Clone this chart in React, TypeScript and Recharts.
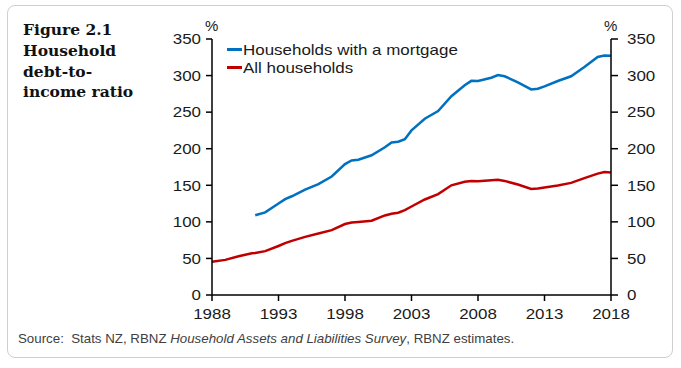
import React from 'react';
import { LineChart, Line, XAxis, YAxis } from 'recharts';

const years = [1988, 1989, 1990, 1991, 1991.25, 1992, 1993, 1993.5, 1994, 1995, 1996, 1997, 1998, 1998.5, 1999, 2000, 2001, 2001.5, 2002, 2002.5, 2003, 2004, 2005, 2006, 2007, 2007.5, 2008, 2009, 2009.5, 2010, 2011, 2012, 2012.5, 2013, 2014, 2015, 2016, 2017, 2017.5, 2018];
const allHouseholds = [45.5, 48, 53, 57, 57.5, 60, 67, 71, 74, 79.5, 84, 88.7, 97, 99, 99.7, 101.5, 108.8, 111, 112.4, 116, 121, 130.6, 138, 150, 154.7, 156, 155.6, 157, 157.4, 156, 151, 145, 145.5, 147, 149.7, 153.3, 159.7, 166, 168, 167.5];
const withMortgage = [null, null, null, null, 109, 113, 125, 131, 135, 144, 151.5, 162, 179, 184, 185, 191, 202, 208.5, 209.5, 213, 225, 241, 251.5, 271.7, 286.7, 292.8, 292.5, 297, 300.8, 299, 290.8, 281, 282, 285.3, 292.6, 299, 311.7, 325.4, 327.5, 327];
const xTicks = [1988, 1993, 1998, 2003, 2008, 2013, 2018];
const yTicks = [0, 50, 100, 150, 200, 250, 300, 350];
const seriesNames = ['Households with a mortgage', 'All households'];
const titleLines = ['Figure 2.1', 'Household', 'debt-to-', 'income ratio'];

const data = years.map((y, i) => ({ year: y, all: allHouseholds[i], mortgage: withMortgage[i] }));

const BLUE = '#0070C0';
const RED = '#C00000';
const TEXT = '#1a1a1a';
const SANS = '"Liberation Sans", Arial, sans-serif';

const makeTick = (anchor: string, dy: string) => (props: any) => {
  const { x, y, payload } = props;
  return (
    <g transform={`translate(${x},${y})`}>
      <text transform="scale(1.13,1)" textAnchor={anchor} dy={dy} fontSize={15} fill={TEXT} fontFamily={SANS}>
        {payload.value}
      </text>
    </g>
  );
};

export default function App() {
  return (
    <div style={{ position: 'absolute', left: 0, top: 0, width: 681, height: 368, background: '#fff' }}>
      <div style={{ position: 'absolute', left: 7, top: 5, width: 664, height: 351, border: '1.5px solid #cfcfcf', borderRadius: 8 }} />
      <div style={{ position: 'absolute', left: 23, top: 20, fontFamily: '"DejaVu Serif", serif', fontWeight: 'bold', fontSize: 15.5, lineHeight: '20.8px', color: '#111' }}>
        {titleLines.map((t) => (
          <div key={t}>{t}</div>
        ))}
      </div>
      <LineChart width={681} height={368} data={data} margin={{ top: 39, right: 0, bottom: 0, left: 0 }} style={{ position: 'absolute', left: 0, top: 0 }}>
        <XAxis dataKey="year" type="number" domain={[1988, 2018]} ticks={xTicks} height={73} axisLine={{ stroke: '#000', strokeWidth: 1.5 }} tickLine={{ stroke: '#000', strokeWidth: 1.5 }} tickSize={6} tickMargin={7} tick={makeTick('middle', '0.71em')} interval={0} />
        <YAxis yAxisId="left" domain={[0, 350]} ticks={yTicks} width={212} axisLine={{ stroke: '#000', strokeWidth: 1.5 }} tickLine={{ stroke: '#000', strokeWidth: 1.5 }} tickSize={6} tickMargin={5} tick={makeTick('end', '0.355em')} interval={0} />
        <YAxis yAxisId="right" orientation="right" domain={[0, 350]} ticks={yTicks} width={70} axisLine={{ stroke: '#000', strokeWidth: 1.5 }} tickLine={{ stroke: '#000', strokeWidth: 1.5 }} tickSize={7} tickMargin={9} tick={makeTick('start', '0.355em')} interval={0} />
        <Line yAxisId="right" dataKey="all" stroke={RED} strokeWidth={2.5} dot={false} isAnimationActive={false} type="linear" />
        <Line yAxisId="left" dataKey="mortgage" stroke={BLUE} strokeWidth={2.5} dot={false} isAnimationActive={false} type="linear" connectNulls={false} />
      </LineChart>
      <div style={{ position: 'absolute', left: 205, top: 17, fontFamily: SANS, fontSize: 15, color: TEXT }}>%</div>
      <div style={{ position: 'absolute', left: 604, top: 17, fontFamily: SANS, fontSize: 15, color: TEXT }}>%</div>
      {seriesNames.map((name, i) => (
        <div key={name} style={{ position: 'absolute', left: 227, top: 40 + i * 18.5, height: 18, display: 'flex', alignItems: 'center' }}>
          <div style={{ width: 15, height: 3, background: i === 0 ? BLUE : RED }} />
          <div style={{ fontFamily: SANS, fontSize: 15, color: TEXT, transform: 'scaleX(1.13)', transformOrigin: 'left center', whiteSpace: 'nowrap', marginLeft: 1 }}>{name}</div>
        </div>
      ))}
      <div style={{ position: 'absolute', left: 18, top: 331, fontFamily: SANS, fontSize: 13.3, color: '#404040', whiteSpace: 'nowrap' }}>
        Source:&nbsp;&nbsp;Stats NZ, RBNZ <i>Household Assets and Liabilities Survey</i>, RBNZ estimates.
      </div>
    </div>
  );
}
